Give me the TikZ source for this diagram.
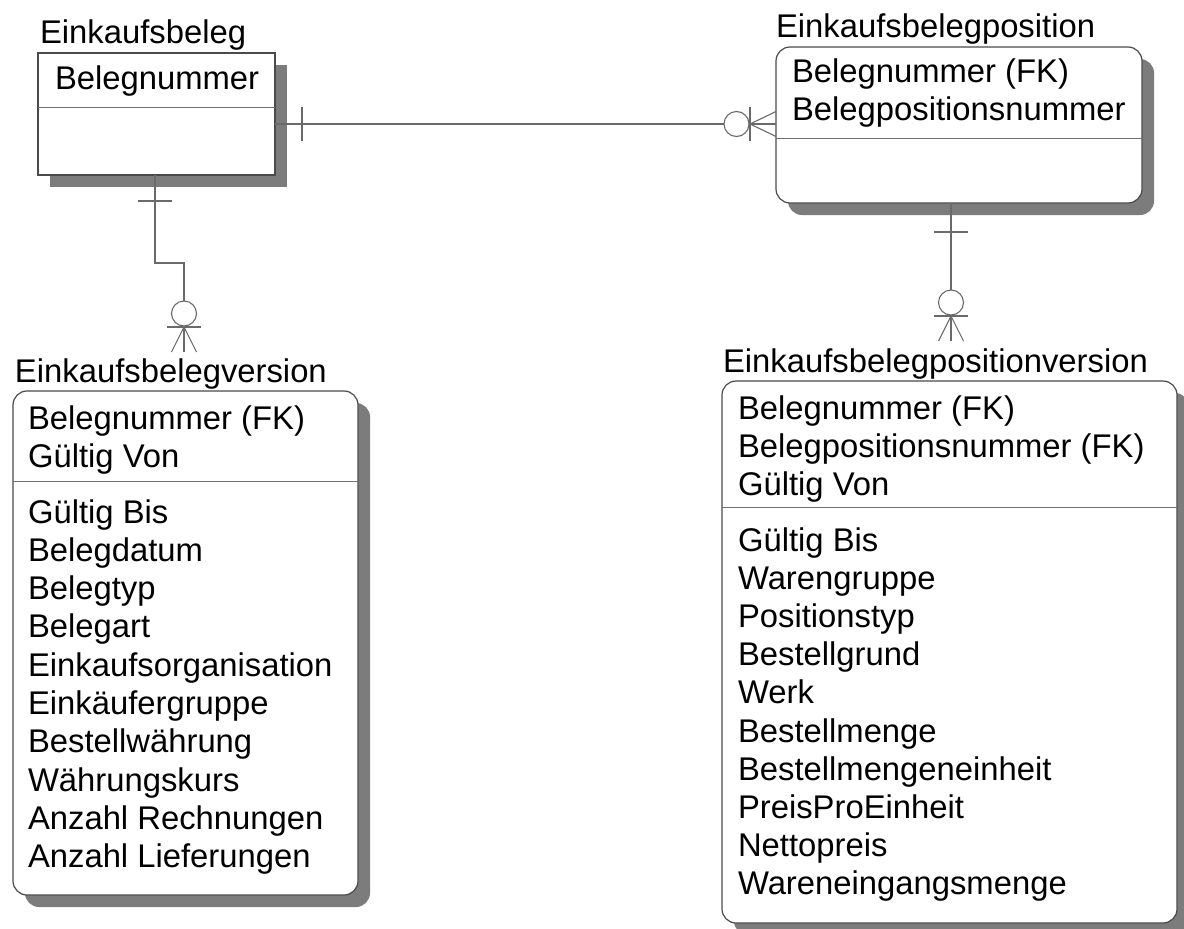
\documentclass[tikz,border=0pt]{standalone}
\usepackage{fontspec}
\setmainfont{Liberation Sans}
\usetikzlibrary{shadows,calc}
\definecolor{boxline}{HTML}{4A4A4A}
\definecolor{divline}{HTML}{6E6E6E}
\definecolor{relline}{HTML}{6A6A6A}
\definecolor{shadowgray}{HTML}{7C7C7C}
\newcommand{\erfont}{\fontsize{32.8}{38}\selectfont}
\begin{document}
\begin{tikzpicture}[x=1pt,y=-1pt,
  ent/.style={draw=boxline, line width=1.2pt, fill=white, inner sep=0pt, outer sep=0pt,
    anchor=north west,
    drop shadow={shadow xshift=12pt, shadow yshift=-12pt, fill=shadowgray, opacity=1}},
  roundent/.style={ent, rounded corners=14pt},
  label/.style={anchor=base west, inner sep=0pt, outer sep=0pt, font=\erfont, text=black},
  divider/.style={draw=divline, line width=1pt},
  rel/.style={draw=relline, line width=1.1pt},
  ring/.style={rel, fill=white}]
\useasboundingbox (0,0) rectangle (1184,929);

% ---------- Einkaufsbeleg ----------
\node[label] (tA) at (40,43) {Einkaufsbeleg};
\node[ent, minimum width=237pt, minimum height=122pt] (A) at (38,53) {};
\draw[divider] (A.west |- 0,107) -- (A.east |- 0,107);
\node[label] (a1) at (55,89) {Belegnummer};

% ---------- Einkaufsbelegposition ----------
\node[label] (tB) at (776,37) {Einkaufsbelegposition};
\node[roundent, minimum width=366pt, minimum height=156pt] (B) at (776,47) {};
\draw[divider] (B.west |- 0,138) -- (B.east |- 0,138);
\node[label] (b1) at (792,82) {Belegnummer (FK)};
\node[label] (b2) at (792,120) {Belegpositionsnummer};

% ---------- Einkaufsbelegversion ----------
\node[label] (tC) at (15,382) {Einkaufsbelegversion};
\node[roundent, minimum width=345pt, minimum height=504pt] (C) at (13,391) {};
\draw[divider] (C.west |- 0,481) -- (C.east |- 0,481);
\foreach \t [count=\i from 0] in {Belegnummer (FK), Gültig Von}
  \node[label] (ck\i) at (28,429+38*\i) {\t};
\foreach \t [count=\i from 0] in {Gültig Bis, Belegdatum, Belegtyp, Belegart,
    Einkaufsorganisation, Einkäufergruppe, Bestellwährung, Währungskurs,
    Anzahl Rechnungen, Anzahl Lieferungen}
  \node[label] (ca\i) at (28,523+38.3*\i) {\t};

% ---------- Einkaufsbelegpositionversion ----------
\node[label] (tD) at (723,372) {Einkaufsbelegpositionversion};
\node[roundent, minimum width=455pt, minimum height=542pt] (D) at (722,381) {};
\draw[divider] (D.west |- 0,507) -- (D.east |- 0,507);
\foreach \t [count=\i from 0] in {Belegnummer (FK), Belegpositionsnummer (FK), Gültig Von}
  \node[label] (dk\i) at (738,419+38*\i) {\t};
\foreach \t [count=\i from 0] in {Gültig Bis, Warengruppe, Positionstyp, Bestellgrund,
    Werk, Bestellmenge, Bestellmengeneinheit, PreisProEinheit, Nettopreis,
    Wareneingangsmenge}
  \node[label] (da\i) at (738,551+38.2*\i) {\t};

% ---------- Einkaufsbeleg -- Einkaufsbelegposition ----------
\coordinate (ab1) at (A.east |- 0,124);
\coordinate (ab2) at (B.west |- 0,124);
\draw[rel] (ab1) -- (ab2);
\draw[rel] ($(ab1)+(27,-17)$) -- ($(ab1)+(27,17)$);
\draw[ring] ($(ab2)+(-39.5,0)$) circle (12.5);
\draw[rel] ($(ab2)+(-26,-17)$) -- ($(ab2)+(-26,17)$);
\draw[rel] ($(ab2)+(0,-12.5)$) -- ($(ab2)+(-26,0)$) -- ($(ab2)+(0,12.5)$);

% ---------- Einkaufsbeleg -- Einkaufsbelegversion ----------
\coordinate (ac1) at (A.south west -| 155,0);
\coordinate (ac2) at (184,352);
\draw[rel] (ac1) -- (155,263) -- (184,263) -- (ac2);
\draw[rel] ($(ac1)+(-17,26)$) -- ($(ac1)+(17,26)$);
\draw[ring] ($(ac2)+(0,-38.5)$) circle (12.5);
\draw[rel] ($(ac2)+(-17,-25)$) -- ($(ac2)+(17,-25)$);
\draw[rel] ($(ac2)+(-12.5,0)$) -- ($(ac2)+(0,-25)$) -- ($(ac2)+(12.5,0)$);

% ---------- Einkaufsbelegposition -- Einkaufsbelegpositionversion ----------
\coordinate (bd1) at (B.south west -| 951,0);
\coordinate (bd2) at (951,341);
\draw[rel] (bd1) -- (bd2);
\draw[rel] ($(bd1)+(-17,29)$) -- ($(bd1)+(17,29)$);
\draw[ring] ($(bd2)+(0,-38.5)$) circle (12.5);
\draw[rel] ($(bd2)+(-17,-25)$) -- ($(bd2)+(17,-25)$);
\draw[rel] ($(bd2)+(-12.5,0)$) -- ($(bd2)+(0,-25)$) -- ($(bd2)+(12.5,0)$);
\end{tikzpicture}
\end{document}
